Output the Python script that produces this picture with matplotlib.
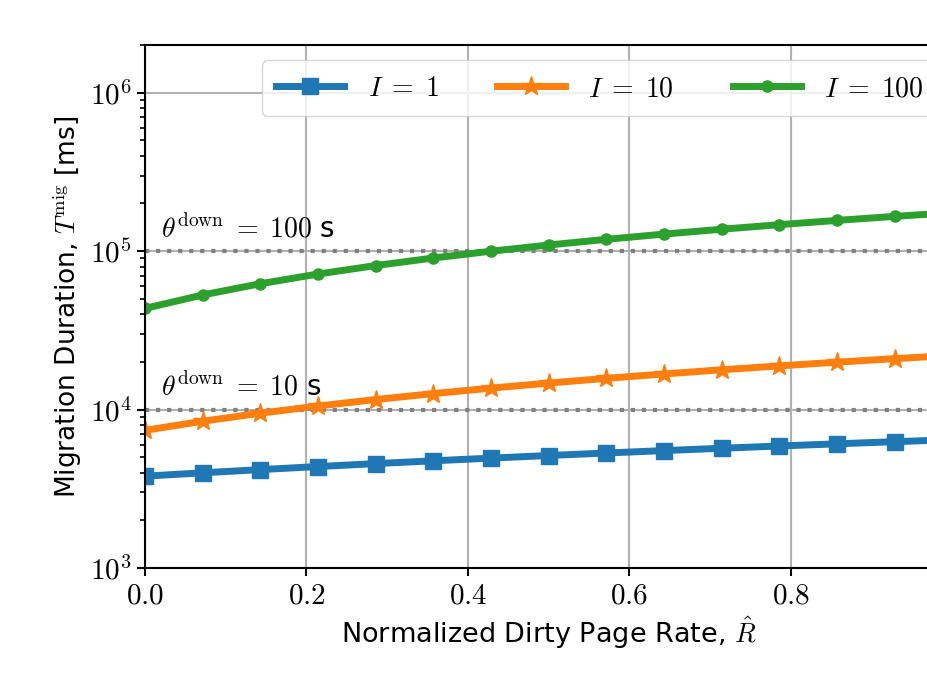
import math

import matplotlib

matplotlib.use("Agg")
import matplotlib.pyplot as plt
from matplotlib.ticker import FuncFormatter, LogLocator, NullFormatter

plt.rcParams["mathtext.fontset"] = "cm"
plt.rcParams["font.family"] = ["DejaVu Sans"]

# normalized dirty page rate
rate = [0.0, 0.0714, 0.1429, 0.2143, 0.2857, 0.3571, 0.4286, 0.5,
        0.5714, 0.6429, 0.7143, 0.7857, 0.8571, 0.9286, 1.0]

# migration duration [ms]
dur_i1 = [3800, 3990, 4180, 4370, 4560, 4750, 4940, 5130,
          5320, 5510, 5700, 5890, 6080, 6270, 6460]
dur_i10 = [7400, 8440, 9490, 10530, 11570, 12610, 13660, 14700,
           15740, 16780, 17830, 18870, 19910, 20950, 22000]
dur_i100 = [43500, 52900, 62300, 71700, 81100, 90500, 99900, 109300,
            118700, 128100, 137500, 146900, 156300, 165700, 175000]

labels = [r"$I \;=\; 1$", r"$I \;=\; 10$", r"$I \;=\; 100$"]
thresholds = [1e4, 1e5]
threshold_labels = [r"$\theta^{\mathrm{down}} \;=\; 10$ s", r"$\theta^{\mathrm{down}} \;=\; 100$ s"]
x_ticks = [0.0, 0.2, 0.4, 0.6, 0.8]

fig = plt.figure(figsize=(9.28, 6.81), dpi=100)
ax = fig.add_axes([0.1563, 0.1659, 0.8697, 0.768])

ax.plot(rate, dur_i1, color="#1f77b4", lw=5, marker="s", ms=12, label=labels[0])
ax.plot(rate, dur_i10, color="#ff7f0e", lw=5, marker="*", ms=15, label=labels[1])
ax.plot(rate, dur_i100, color="#2ca02c", lw=5, marker="o", ms=8, label=labels[2])

for thr, txt in zip(thresholds, threshold_labels):
    ax.axhline(thr, color="gray", ls=":", lw=3, zorder=1.5)
    ax.text(0.02, thr * 1.12, txt, fontsize=20, va="bottom", ha="left")

ax.set_yscale("log")
ax.set_xlim(0, 1)
ax.set_ylim(1e3, 2e6)
ax.grid(True, which="major", color="#b0b0b0", lw=1.5)
ax.set_axisbelow(True)

ax.yaxis.set_major_locator(LogLocator(base=10))
ax.yaxis.set_minor_locator(LogLocator(base=10, subs=range(2, 10)))
ax.yaxis.set_minor_formatter(NullFormatter())
ax.yaxis.set_major_formatter(FuncFormatter(lambda v, p: r"$10^{%d}$" % round(math.log10(v))))
ax.set_xticks(x_ticks)
ax.xaxis.set_major_formatter(FuncFormatter(lambda v, p: r"$%.1f$" % v))
ax.tick_params(axis="both", which="major", labelsize=21, width=1.5, length=6)
ax.tick_params(axis="y", which="minor", width=1.2, length=3.5)
for sp in ax.spines.values():
    sp.set_linewidth(1.5)

ax.set_xlabel(r"Normalized Dirty Page Rate, $\hat{R}$", fontsize=19.5)
ax.set_ylabel(r"Migration Duration, $T^{\mathrm{mig}}$ [ms]", fontsize=19)

ax.legend(loc="upper left", bbox_to_anchor=(0.145, 0.971), borderaxespad=0,
          ncol=3, fontsize=20, handlelength=2.45, handletextpad=0.85,
          columnspacing=2.1, framealpha=0.8, borderpad=0.5)

fig.savefig("out.png", dpi=100)
